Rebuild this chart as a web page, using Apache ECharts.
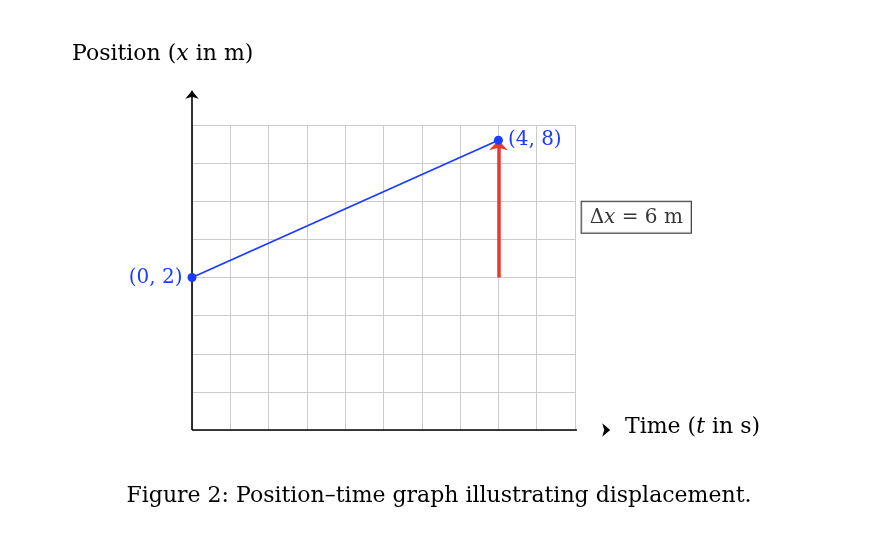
<!DOCTYPE html>
<html><head><meta charset="utf-8">
<script src="https://cdn.jsdelivr.net/npm/echarts@6/dist/echarts.min.js"></script>
<style>html,body{margin:0;background:#fff}#c{width:878px;height:558px}</style>
</head><body><div id="c"></div>
<script>
// Drawn positions (figure units) and their printed labels
const pathX = [0, 4];
const pathY = [2, 3.8];
const pointLabels = ['(0, 2)', '(4, 8)'];
const arrowFrom = [4, 2];
const arrowTo = [4, 3.8];
const boxPos = [5.8, 2.79];
const xAxisEnd = [5.46, 0];
const yAxisEnd = [0, 4.45];
const F = 'DejaVu Serif';
const blue = '#1a3cff';
const chart = echarts.init(document.getElementById('c'));
const axisSeries = (end, rot) => ({type:'line',clip:false,silent:true,
  data:[{value:[0,0],symbol:'none'},{value:end,symbol:'arrow',symbolSize:[10,8],symbolRotate:rot,symbolOffset:[0,0]}],
  lineStyle:{color:'#000',width:1.6},itemStyle:{color:'#000'},z:5});
chart.setOption({
  animation:false,
  grid:{left:192,right:303,top:125,bottom:128},
  xAxis:{type:'value',min:0,max:5,interval:0.5,axisLabel:{show:false},axisTick:{show:false},axisLine:{show:false},splitLine:{lineStyle:{color:'#cccccc',width:1}}},
  yAxis:{type:'value',min:0,max:4,interval:0.5,axisLabel:{show:false},axisTick:{show:false},axisLine:{show:false},splitLine:{lineStyle:{color:'#cccccc',width:1}}},
  series:[
    axisSeries(xAxisEnd,-90),
    axisSeries(yAxisEnd,0),
    {type:'line',clip:false,data:[],markLine:{silent:true,symbol:['none','arrow'],symbolSize:[14,10],label:{show:false},
      lineStyle:{color:'#e8392e',width:3.5,type:'solid'},
      data:[[{coord:arrowFrom},{coord:arrowTo}]]}},
    {type:'line',clip:false,symbol:'circle',symbolSize:9,
      data:pathX.map((x,i)=>({value:[x,pathY[i]],label:{position:i===0?'left':'right',distance:5}})),
      lineStyle:{color:blue,width:1.8},itemStyle:{color:blue},
      label:{show:true,fontFamily:F,fontSize:20,color:blue,formatter:p=>pointLabels[p.dataIndex]},
      emphasis:{disabled:true},z:6},
    {type:'scatter',clip:false,data:[boxPos],symbolSize:0,
      label:{show:true,position:'inside',formatter:'Δ{i|x} = 6 m',fontFamily:F,fontSize:20,color:'#000',
        rich:{i:{fontFamily:F,fontStyle:'italic',fontSize:20}},
        borderColor:'#000',borderWidth:1,padding:[6,8,5,8],backgroundColor:'#fff'}}
  ],
  graphic:[
    {type:'text',left:72,top:43,style:{text:'Position ({i|x} in m)',font:'22px "DejaVu Serif"',fill:'#000',
      rich:{i:{fontStyle:'italic',fontFamily:F,fontSize:22}}}},
    {type:'text',left:625,top:416,style:{text:'Time ({i|t} in s)',font:'22px "DejaVu Serif"',fill:'#000',
      rich:{i:{fontStyle:'italic',fontFamily:F,fontSize:22}}}},
    {type:'text',left:'center',top:485,style:{text:'Figure 2: Position–time graph illustrating displacement.',font:'22px "DejaVu Serif"',fill:'#000'}}
  ]
});
</script></body></html>
